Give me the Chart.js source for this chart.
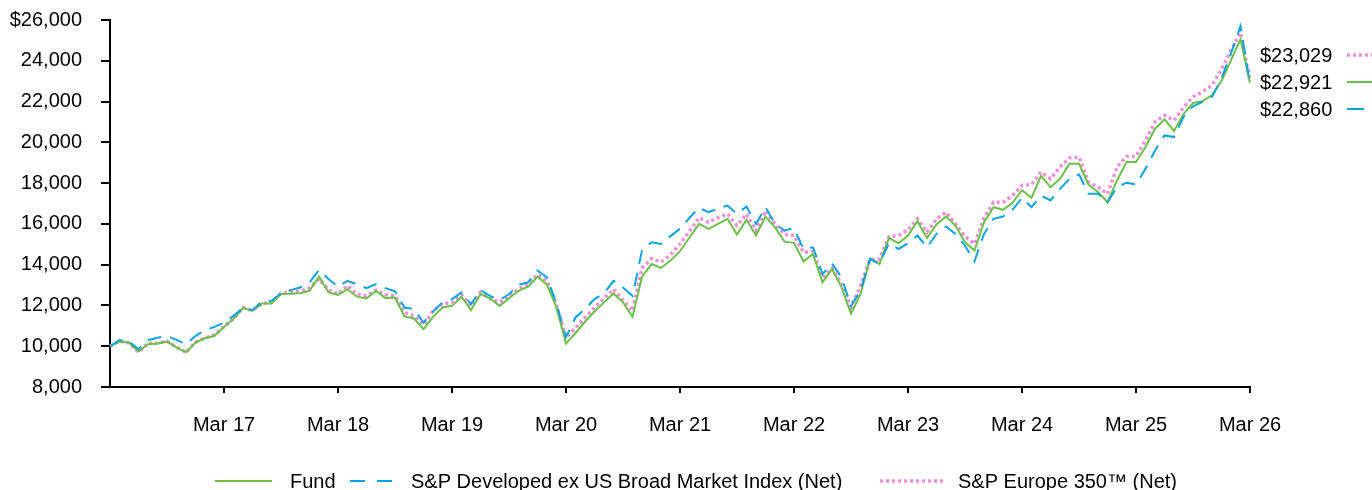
<!DOCTYPE html>
<html>
<head>
<meta charset="utf-8">
<script src="https://cdn.jsdelivr.net/npm/chart.js@4.4.1/dist/chart.umd.min.js"></script>
<style>
  html, body { margin: 0; padding: 0; background: #fff; }
</style>
</head>
<body>
<canvas id="chartGrowth" width="1372" height="490"></canvas>
<script>
// ==========================
// DATA (monthly, Mar 16 -> Mar 26)
// ==========================
const monthNames = ["Mar", "Apr", "May", "Jun", "Jul", "Aug", "Sep", "Oct", "Nov", "Dec", "Jan", "Feb"];
const months = [];
for (let i = 0; i <= 120; i++) {
  const yr = 16 + Math.floor((i + 2) / 12);
  months.push(monthNames[i % 12] + " " + yr);
}

const fund = [
  10000, 10230, 10180, 9740, 10100, 10130, 10230, 9940, 9700, 10180, 10390, 10510,
  10950, 11340, 11870, 11740, 12100, 12100, 12560, 12570, 12600, 12720, 13410, 12640,
  12520, 12800, 12430, 12340, 12720, 12360, 12390, 11460, 11360, 10840, 11440, 11900,
  11980, 12430, 11770, 12560, 12350, 11980, 12350, 12720, 12920, 13410, 13020, 11900,
  10130, 10650, 11200, 11700, 12150, 12590, 12150, 11440, 13410, 14030, 13840, 14200,
  14660, 15330, 16000, 15760, 16000, 16250, 15475, 16200, 15430, 16360, 15830, 15130,
  15070, 14160, 14520, 13130, 13790, 12900, 11600, 12560, 14280, 14030, 15310, 15050,
  15430, 16130, 15310, 15970, 16360, 15920, 15100, 14690, 16080, 16820, 16690, 17030,
  17650, 17280, 18360, 17800, 18210, 18950, 18950, 17930, 17560, 17060, 18130, 19030,
  19030, 19770, 20670, 21130, 20560, 21380, 21930, 22020, 22310, 23010, 24030, 25050,
  22921
];

const developedExUs = [
  10000, 10300, 10230, 9850, 10300, 10420, 10510, 10310, 10100, 10510, 10790, 10950,
  11160, 11490, 11870, 11770, 12200, 12230, 12590, 12750, 12880, 13130, 13740, 13300,
  12920, 13210, 13030, 12850, 13050, 12850, 12690, 11900, 11820, 11160, 11700, 12150,
  12310, 12640, 12070, 12750, 12470, 12260, 12550, 13020, 13130, 13710, 13380, 12070,
  10460, 11410, 11820, 12310, 12600, 13210, 12880, 12470, 14700, 15100, 15020, 15400,
  15760, 16300, 16790, 16570, 16750, 16900, 16490, 16850, 16000, 16820, 16000, 15670,
  15800, 14770, 14850, 13540, 14060, 13380, 11980, 12720, 14280, 14060, 15050, 14770,
  15050, 15430, 14850, 15510, 15870, 15510, 14930, 14160, 15510, 16250, 16360, 16690,
  17280, 16820, 17390, 17150, 17720, 18210, 18430, 17480, 17480, 17060, 17800, 18020,
  17930, 18700, 19600, 20340, 20260, 21250, 21770, 21980, 22230, 23130, 24360, 25700,
  22860
];

const europe350 = [
  10000, 10250, 10150, 9700, 10150, 10150, 10250, 9950, 9700, 10200, 10400, 10550,
  10950, 11350, 11900, 11750, 12100, 12150, 12600, 12650, 12700, 12850, 13300, 12760,
  12560, 12970, 12560, 12470, 12750, 12530, 12470, 11650, 11490, 11050, 11740, 12070,
  12150, 12520, 11980, 12640, 12350, 12150, 12450, 12800, 13050, 13510, 13210, 12000,
  10430, 10900, 11400, 11900, 12350, 12800, 12260, 11740, 13840, 14300, 14130, 14490,
  15020, 15640, 16300, 16080, 16300, 16490, 15920, 16490, 15670, 16650, 16000, 15480,
  15430, 14600, 14650, 13380, 13820, 13050, 11930, 12970, 14230, 14280, 15380, 15430,
  15710, 16250, 15590, 16250, 16570, 16000, 15380, 15020, 16300, 17060, 17060, 17390,
  17890, 17930, 18540, 18210, 18790, 19240, 19280, 18050, 17800, 17470, 18790, 19310,
  19310, 20100, 21000, 21330, 21080, 21710, 22230, 22480, 22800, 23580, 24520, 25380,
  23029
];

const endLabels = ["$23,029", "$22,921", "$22,860"];
const legendNames = ["Fund", "S&P Developed ex US Broad Market Index (Net)", "S&P Europe 350\u2122 (Net)"];

const GREEN = "#6cc04a";
const BLUE = "#0aa3de";
const PINK = "#f08fd8";
const FONT = "'Liberation Sans', Arial, sans-serif";

// ==========================
// END LABELS + LEGEND
// ==========================
const extrasPlugin = {
  id: "extras",
  afterDraw(chart) {
    const ctx = chart.ctx;
    ctx.save();
    ctx.font = "20px " + FONT;
    ctx.fillStyle = "#000";
    ctx.textBaseline = "middle";
    ctx.textAlign = "left";

    // right-side ending values
    const rows = [
      { y: 55, color: PINK, width: 3.5, dash: [3, 3], x2: 1372 },
      { y: 82, color: GREEN, width: 2, dash: [], x2: 1372 },
      { y: 109, color: BLUE, width: 2, dash: [], x2: 1364 }
    ];
    rows.forEach((r, i) => {
      ctx.fillText(endLabels[i], 1260, r.y + 1);
      ctx.beginPath();
      ctx.setLineDash(r.dash);
      ctx.strokeStyle = r.color;
      ctx.lineWidth = r.width;
      ctx.moveTo(1347, r.y);
      ctx.lineTo(r.x2, r.y);
      ctx.stroke();
    });

    // bottom legend
    const ly = 481;
    ctx.setLineDash([]);
    ctx.strokeStyle = GREEN;
    ctx.lineWidth = 2;
    ctx.beginPath();
    ctx.moveTo(215, ly);
    ctx.lineTo(272, ly);
    ctx.stroke();
    ctx.fillText(legendNames[0], 290, ly + 1);

    ctx.strokeStyle = BLUE;
    ctx.setLineDash([15, 12]);
    ctx.beginPath();
    ctx.moveTo(350, ly);
    ctx.lineTo(396, ly);
    ctx.stroke();
    ctx.setLineDash([]);
    ctx.fillText(legendNames[1], 411, ly + 1);

    ctx.strokeStyle = PINK;
    ctx.lineWidth = 3.5;
    ctx.setLineDash([3, 3]);
    ctx.beginPath();
    ctx.moveTo(880, ly);
    ctx.lineTo(943, ly);
    ctx.stroke();
    ctx.setLineDash([]);
    ctx.fillText(legendNames[2], 958, ly + 1);
    ctx.restore();
  }
};

// ==========================
// CHART
// ==========================
new Chart(document.getElementById("chartGrowth"), {
  type: "line",
  data: {
    labels: months,
    datasets: [
      {
        label: legendNames[1],
        data: developedExUs,
        borderColor: BLUE,
        borderWidth: 2,
        borderDash: [14, 9],
        fill: false
      },
      {
        label: legendNames[0],
        data: fund,
        borderColor: GREEN,
        borderWidth: 2,
        fill: false
      },
      {
        label: legendNames[2],
        data: europe350,
        borderColor: PINK,
        borderWidth: 3.5,
        borderDash: [3, 3],
        fill: false
      }
    ]
  },
  options: {
    responsive: false,
    animation: false,
    layout: { padding: { left: 0, right: 122, top: 20, bottom: 0 } },
    elements: { point: { radius: 0 }, line: { tension: 0 } },
    plugins: { legend: { display: false }, tooltip: { enabled: false } },
    scales: {
      x: {
        grid: { display: true, drawOnChartArea: false, drawTicks: true, tickLength: 6, color: "#000", lineWidth: 2 },
        border: { display: true, color: "#000", width: 2 },
        ticks: {
          autoSkip: false,
          maxRotation: 0,
          padding: 20,
          color: "#000",
          font: { family: FONT, size: 20 },
          callback: function (val, i) {
            return (i > 0 && i % 12 === 0) ? months[i] : null;
          }
        },
        afterFit: function (scale) {
          scale.height = 103;
          scale.paddingLeft = 0;
          scale.paddingRight = 0;
        }
      },
      y: {
        min: 8000,
        max: 26000,
        grid: { display: true, drawOnChartArea: false, drawTicks: true, tickLength: 9, color: "#000", lineWidth: 2 },
        border: { display: true, color: "#000", width: 2 },
        ticks: {
          stepSize: 2000,
          padding: 19,
          color: "#000",
          font: { family: FONT, size: 20 },
          callback: function (v) {
            const s = v.toLocaleString("en-US");
            return v === 26000 ? "$" + s : s;
          }
        },
        afterFit: function (scale) {
          scale.width = 110;
          scale.paddingTop = 0;
          scale.paddingBottom = 0;
        }
      }
    }
  },
  plugins: [extrasPlugin]
});
</script>
</body>
</html>
